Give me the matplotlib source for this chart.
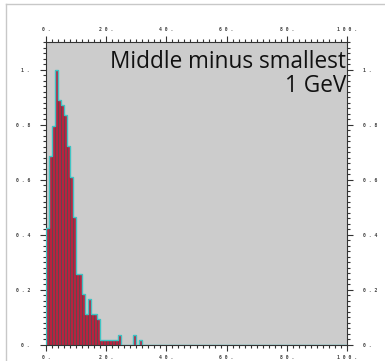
import matplotlib.pyplot as plt
from matplotlib.lines import Line2D
from matplotlib.ticker import MultipleLocator, FixedLocator
import numpy as np

# event counts per 1 GeV bin, starting at 0
counts = [23, 37, 43, 54, 48, 47, 45, 39, 33, 25, 14, 14, 10, 6, 9, 6,
          6, 5, 1, 1, 1, 1, 1, 1, 2, 0, 0, 0, 0, 2, 0, 1]
x_ticks = [0, 20, 40, 60, 80, 100]
x_labels = ["0.", "20.", "40.", "60.", "80.", "100."]
y_ticks = [0, 0.2, 0.4, 0.6, 0.8, 1.0]
y_labels = ["0.", "0.2", "0.4", "0.6", "0.8", "1."]
title_lines = ["Middle minus smallest", "1 GeV"]

heights = np.zeros(100)
heights[:len(counts)] = counts
heights = heights / max(counts)
edges = np.arange(101)

fig = plt.figure(figsize=(3.85, 3.61), dpi=100)
ax = fig.add_axes([46 / 385, 1 - 345 / 361, 301 / 385, 303 / 361])
ax.set_facecolor("#cccccc")

ax.bar(edges[:-1], heights, width=1, align="edge", color="#b8233f",
       edgecolor="#5a4a50", linewidth=0.6, zorder=2)
ax.stairs(heights, edges, color="#3fc4c4", linewidth=1.0, zorder=3)

ax.set_xlim(0, 100)
ax.set_ylim(0, 1.1)

spaced = lambda s: " ".join(s)
ax.xaxis.set_major_locator(FixedLocator(x_ticks))
ax.set_xticklabels([spaced(s) for s in x_labels])
ax.xaxis.set_minor_locator(MultipleLocator(2))
ax.yaxis.set_major_locator(FixedLocator(y_ticks))
ax.set_yticklabels([spaced(s) for s in y_labels])
ax.yaxis.set_minor_locator(MultipleLocator(0.02))

ax.tick_params(which="both", direction="out", top=True, right=True,
               labeltop=True, labelright=True, color="#333333", width=0.8)
ax.tick_params(which="major", length=4.3, labelsize=3.5, labelcolor="#444444")
ax.tick_params(axis="x", which="major", pad=2.9)
ax.tick_params(axis="y", which="major", pad=7.2)
ax.tick_params(which="minor", length=2.5)
for lab in ax.get_xticklabels() + ax.get_yticklabels():
    lab.set_family("DejaVu Sans Mono")
    lab.set_weight("bold")
for sp in ax.spines.values():
    sp.set_color("#333333")
    sp.set_linewidth(0.8)

ax.text(0.9967, 0.913, title_lines[0], transform=ax.transAxes, ha="right",
        va="baseline", fontsize=16.3, family="Open Sans", color="#111111")
ax.text(0.9967, 0.835, title_lines[1], transform=ax.transAxes, ha="right",
        va="baseline", fontsize=16.3, family="Open Sans", color="#111111")

# screenshot frame
fig.add_artist(Line2D([6 / 385, 6 / 385], [0, 1 - 4 / 361],
                      color="#c8c8c8", linewidth=1))
fig.add_artist(Line2D([6 / 385, 1], [1 - 4 / 361, 1 - 4 / 361],
                      color="#c8c8c8", linewidth=1))

fig.savefig("out.png", dpi=100)
